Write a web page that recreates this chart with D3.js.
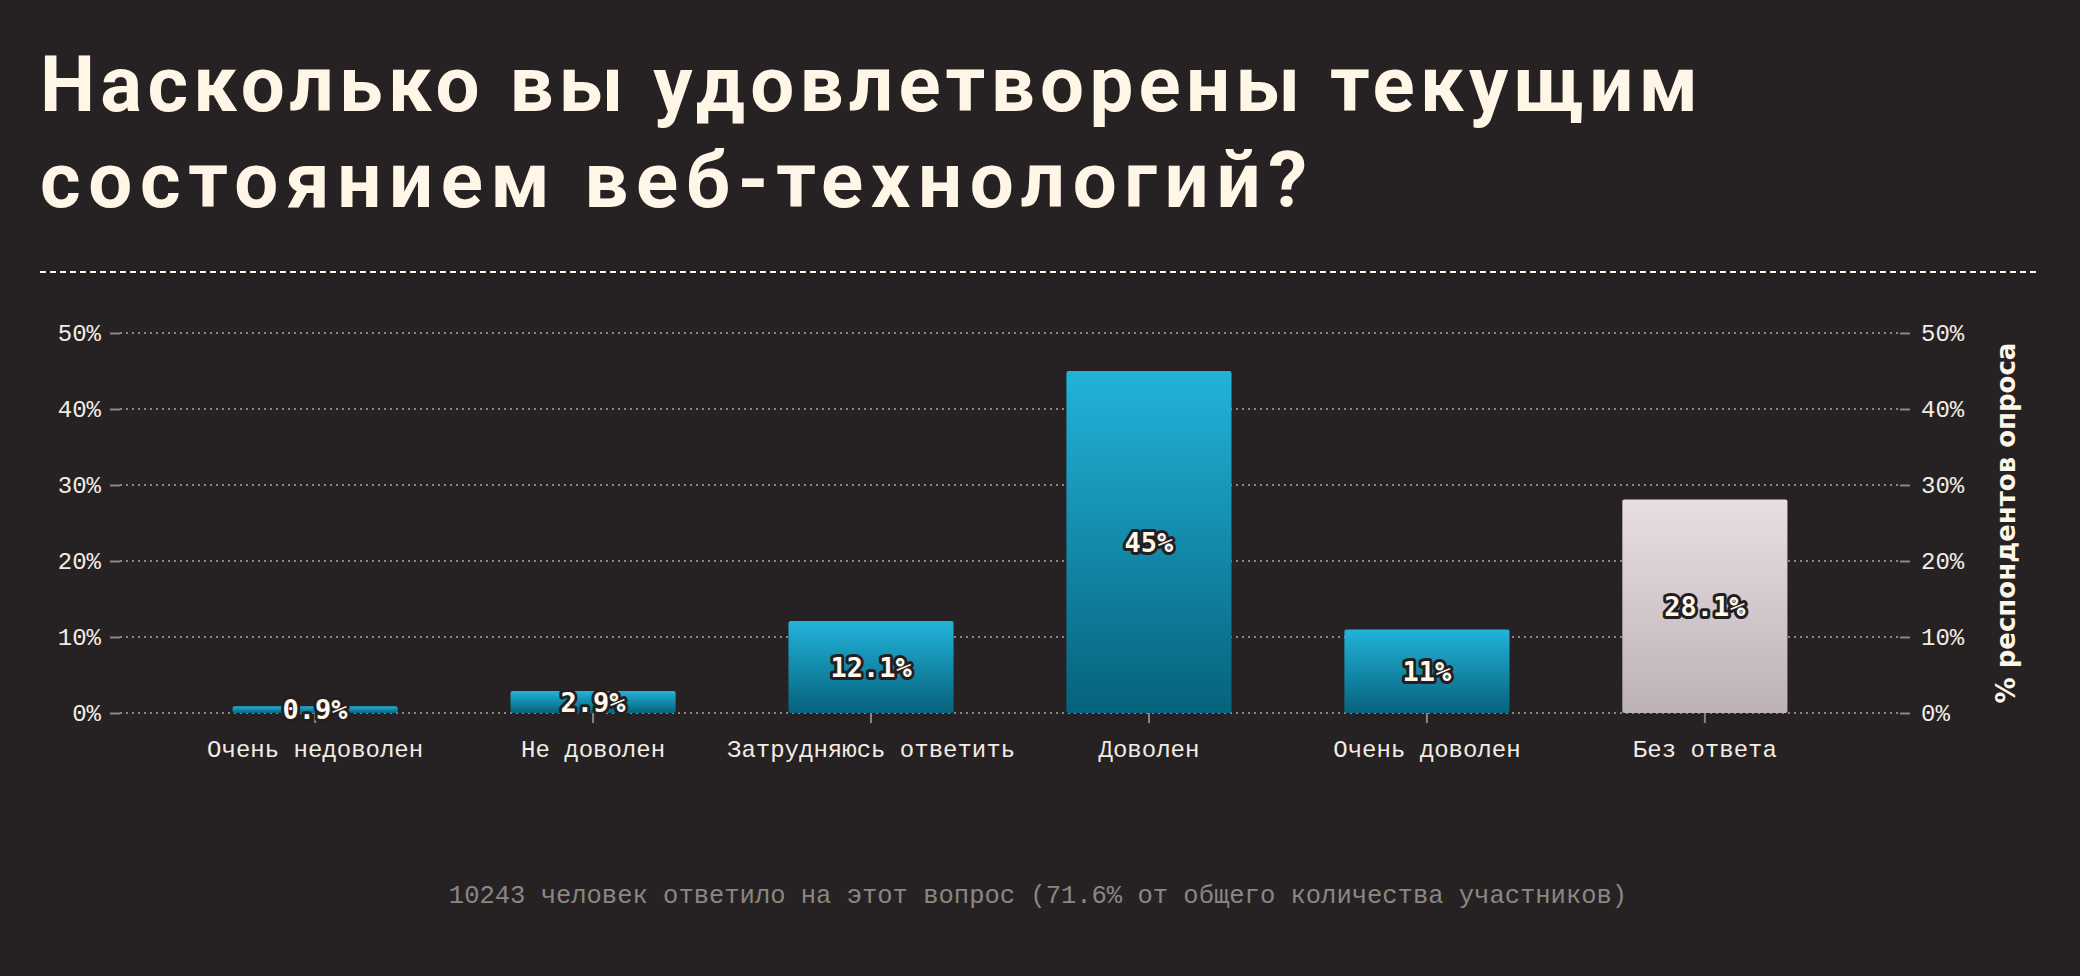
<!DOCTYPE html>
<html>
<head>
<meta charset="utf-8">
<script src="https://cdn.jsdelivr.net/npm/d3@7"></script>
<style>
  html, body { margin: 0; padding: 0; background: #262223; }
  svg { display: block; }
</style>
</head>
<body>
<div class="canvas"></div>
<script>
// data
const categories = ['Очень недоволен', 'Не доволен', 'Затрудняюсь ответить', 'Доволен', 'Очень доволен', 'Без ответа'];
const shares = [0.9, 2.9, 12.1, 45, 11, 28.1];
const noAnswer = ['Без ответа'];
const yTicks = [0, 10, 20, 30, 40, 50];
const titleLines = ['Насколько вы удовлетворены текущим', 'состоянием веб-технологий?'];
const yTitle = '% респондентов опроса';
const note = '10243 человек ответило на этот вопрос (71.6% от общего количества участников)';

const data = categories.map((c, i) => ({ name: c, value: shares[i] }));

// dimensions
const dims = { width: 2080, height: 976 };
const plot = { left: 120, right: 1900, top: 333, bottom: 713 };

const cream = '#fff6e8';
const gray = '#8a8583';
const mono = '"Liberation Mono", "DejaVu Sans Mono", monospace';

//------------------------Svg container
const svg = d3.select('.canvas')
  .append('svg')
  .attr('width', dims.width)
  .attr('height', dims.height);

svg.append('rect')
  .attr('width', dims.width)
  .attr('height', dims.height)
  .attr('fill', '#262223');

// gradients for bars
const defs = svg.append('defs');
const grads = [
  { id: 'blueGrad', top: '#22b3da', bottom: '#06627c' },
  { id: 'greyGrad', top: '#e9dee3', bottom: '#bdb2b6' }
];
grads.forEach(g => {
  const lg = defs.append('linearGradient')
    .attr('id', g.id)
    .attr('x1', 0).attr('y1', 0).attr('x2', 0).attr('y2', 1);
  lg.append('stop').attr('offset', '0%').attr('stop-color', g.top);
  lg.append('stop').attr('offset', '100%').attr('stop-color', g.bottom);
});

//------------------------Title
// widths of the two lines as measured on the reference
const titleWidths = [1658, 1267];
svg.append('g')
  .selectAll('text')
  .data(titleLines)
  .enter()
  .append('text')
  .attr('x', 40)
  .attr('y', (d, i) => 111 + i * 96)
  .attr('fill', cream)
  .attr('textLength', (d, i) => titleWidths[i])
  .attr('lengthAdjust', 'spacing')
  .style('font-family', 'Roboto, "Open Sans", sans-serif')
  .style('font-weight', 700)
  .style('font-size', '78px')
  .text(d => d);

// dashed separator
svg.append('line')
  .attr('x1', 40).attr('x2', 2040)
  .attr('y1', 272).attr('y2', 272)
  .attr('stroke', cream)
  .attr('stroke-width', 2)
  .attr('stroke-dasharray', '6,4');

//------------------------Scales
const x = d3.scaleBand()
  .domain(categories)
  .range([plot.left, plot.right])
  .paddingInner(0.406)
  .paddingOuter(0.405);

const y = d3.scaleLinear()
  .domain([0, 50])
  .range([plot.bottom, plot.top]);

// grid lines (dotted)
svg.append('g')
  .selectAll('line')
  .data(yTicks)
  .enter()
  .append('line')
  .attr('x1', plot.left).attr('x2', plot.right)
  .attr('y1', d => y(d)).attr('y2', d => y(d))
  .attr('stroke', gray)
  .attr('stroke-width', 2)
  .attr('stroke-dasharray', '2,4');

// y axes on both sides
const styleAxis = g => {
  g.select('.domain').remove();
  g.selectAll('.tick line').attr('stroke', gray).attr('stroke-width', 2);
  g.selectAll('.tick text')
    .attr('fill', '#f2ece3')
    .style('font-family', mono)
    .style('font-size', '24px');
};

svg.append('g')
  .attr('transform', `translate(${plot.left}, 0)`)
  .call(d3.axisLeft(y).tickValues(yTicks).tickSize(10).tickPadding(9).tickFormat(d => d + '%'))
  .call(styleAxis);

svg.append('g')
  .attr('transform', `translate(${plot.right}, 0)`)
  .call(d3.axisRight(y).tickValues(yTicks).tickSize(10).tickPadding(11).tickFormat(d => d + '%'))
  .call(styleAxis);

// x axis
svg.append('g')
  .attr('transform', `translate(0, ${plot.bottom})`)
  .call(d3.axisBottom(x).tickSize(10).tickPadding(17))
  .call(styleAxis);

//------------------------Bars
svg.append('g')
  .selectAll('rect')
  .data(data)
  .enter()
  .append('rect')
  .attr('x', d => x(d.name))
  .attr('y', d => y(d.value))
  .attr('width', x.bandwidth())
  .attr('height', d => y(0) - y(d.value))
  .attr('rx', 2)
  .attr('fill', d => noAnswer.includes(d.name) ? 'url(#greyGrad)' : 'url(#blueGrad)');

// value labels with dark outline
svg.append('g')
  .selectAll('text')
  .data(data)
  .enter()
  .append('text')
  .attr('x', d => x(d.name) + x.bandwidth() / 2)
  .attr('y', d => (y(d.value) + y(0)) / 2)
  .attr('dy', '0.36em')
  .attr('text-anchor', 'middle')
  .attr('fill', '#fff8ec')
  .attr('stroke', '#231f20')
  .attr('stroke-width', 6)
  .attr('stroke-linejoin', 'round')
  .attr('paint-order', 'stroke')
  .style('font-family', '"DejaVu Sans Mono", monospace')
  .style('font-weight', 700)
  .style('font-size', '27px')
  .text(d => d.value + '%');

//------------------------Right axis title
svg.append('text')
  .attr('transform', `translate(2015, ${(plot.top + plot.bottom) / 2}) rotate(-90)`)
  .attr('text-anchor', 'middle')
  .attr('fill', cream)
  .style('font-family', '"DejaVu Sans", sans-serif')
  .style('font-weight', 700)
  .style('font-size', '26px')
  .text(yTitle);

//------------------------Footnote
svg.append('text')
  .attr('x', 1038)
  .attr('y', 903)
  .attr('text-anchor', 'middle')
  .attr('fill', '#8b8683')
  .style('font-family', mono)
  .style('font-size', '25.5px')
  .text(note);
</script>
</body>
</html>
